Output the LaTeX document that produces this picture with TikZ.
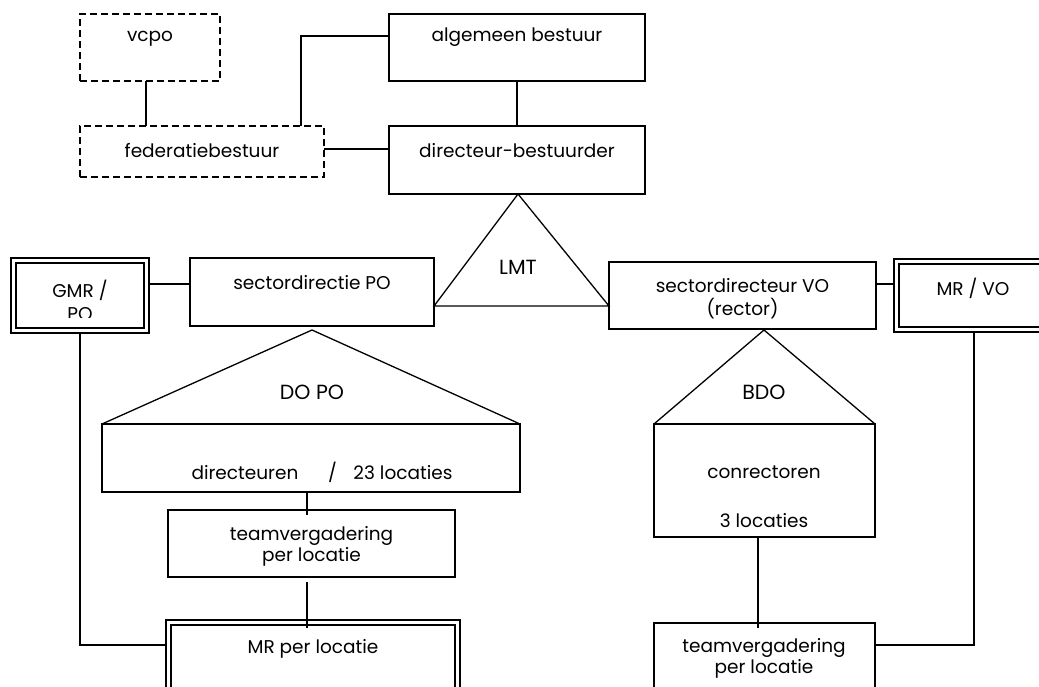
\documentclass[tikz,border=0pt]{standalone}
\usepackage{fontspec}
\setmainfont{Poppins}
\begin{document}
\begin{tikzpicture}[x=1pt,y=-1pt,
  line width=1.3pt,
  every node/.style={inner sep=0pt, outer sep=0pt},
  txt/.style={font=\fontsize{18.5}{21}\selectfont, anchor=center},
  big/.style={font=\fontsize{20.5}{23}\selectfont, anchor=center},
  bx/.style={draw, rectangle},
  dsh/.style={dash pattern=on 7pt off 4pt},
  dbx/.style={draw, rectangle, line width=1.8pt},
  dbin/.style={draw, rectangle, line width=1.8pt}
]
\useasboundingbox (0,0) rectangle (1039,686);
\clip (0,0) rectangle (1039,686);

% ---- top: governing bodies
\node[bx, dsh, minimum width=140, minimum height=67] (vcpo) at (150,47.5) {};
\node[bx, dsh, minimum width=244, minimum height=51] (fed) at (202,151.5) {};
\node[bx, minimum width=256, minimum height=67] (alg) at (517,47.5) {};
\node[bx, minimum width=256, minimum height=68] (dir) at (517,160) {};

\node[txt] (tvcpo) at (150,39) {vcpo};
\node[txt] (tfed) at (202,151) {federatiebestuur};
\node[txt] (talg) at (517,37) {algemeen bestuur};
\node[txt] (tdir) at (517,151) {directeur-bestuurder};

\coordinate (kfed) at (301,36);
\draw ([xshift=-4pt]vcpo.south) -- ([xshift=-4pt]vcpo.south |- fed.north);
\draw (alg.west |- kfed) -| (kfed |- fed.north);
\draw ([yshift=2.5pt]fed.east) -- ([yshift=2.5pt]fed.east -| dir.west);
\draw (alg.south) -- (alg.south |- dir.north);

% ---- sector level
\node[bx, minimum width=244, minimum height=68] (spo) at (312,292) {};
\node[bx, minimum width=267, minimum height=67] (svo) at (742.5,295.5) {};
\node[txt] (tspo) at (312,283) {sectordirectie PO};
\node[txt, align=center] (tsvo) at (742.5,298.5) {sectordirecteur VO\\[2pt](rector)};

% LMT triangle between the sector boxes
\coordinate (lmtA) at (518,194);
\coordinate (lmtL) at (434,306);
\coordinate (lmtR) at (609,306);
\draw (lmtL) -- (lmtA) -- (lmtR) -- cycle;
\node[big] (tlmt) at (518,267) {LMT};

% GMR / PO (double frame, text cut off by the inner frame)
\node[dbx, minimum width=138, minimum height=75] (gmr) at (80,295.5) {};
\node[dbin, minimum width=128, minimum height=65] (gmrin) at (80,295.5) {};
\begin{scope}
  \clip (17,264) rectangle (143,317.5);
  \node[txt, align=center] (tgmr) at (80,300) {GMR /\\[2pt]PO};
\end{scope}

% MR / VO (double frame)
\node[dbx, minimum width=160, minimum height=73] (mrvo) at (974,295.5) {};
\node[dbin, minimum width=150, minimum height=63] (mrvoin) at (974,295.5) {};
\node[txt] (tmrvo) at (973,288) {MR / VO};

\coordinate (kgmr) at (0,284);
\draw (gmr.east |- kgmr) -- (spo.west |- kgmr);
\draw (svo.east |- kgmr) -- (mrvo.west |- kgmr);

% ---- PO branch
\coordinate (dopoA) at (312,330);
\coordinate (dopoL) at (102,424);
\coordinate (dopoR) at (520,424);
\draw (dopoL) -- (dopoA) -- (dopoR);
\node[big] (tdopo) at (312,392) {DO PO};
\node[bx, minimum width=418, minimum height=68] (dirpo) at (311,458) {};
\node[txt] (tdirpo) at (322,472) {directeuren\hspace{1.6em}/\hspace{0.9em}23 locaties};

\node[bx, minimum width=287, minimum height=67] (tpo) at (311.5,543.5) {};
\node[txt, align=center] (ttpo) at (311.5,546.5) {teamvergadering\\[0pt]per locatie};

\node[dbx, minimum width=294, minimum height=90] (mrpo) at (313,665) {};
\node[dbin, minimum width=284, minimum height=80] (mrpoin) at (313,665) {};
\node[txt] (tmrpo) at (313,649) {MR per locatie};

\draw ([xshift=-4pt]dirpo.south) -- ([xshift=-4pt,yshift=-5pt]dirpo.south |- tpo.north);
\draw ([xshift=-4.5pt,yshift=-5pt]tpo.south) -- ([xshift=-6pt,yshift=-3pt]mrpoin.north);
\draw (gmr.south) |- ([yshift=20pt]mrpo.west);

% ---- VO branch
\coordinate (bdoA) at (764,330);
\coordinate (bdoL) at (654,424);
\coordinate (bdoR) at (875,424);
\draw (bdoL) -- (bdoA) -- (bdoR);
\node[big] (tbdo) at (764,392) {BDO};
\node[bx, minimum width=221, minimum height=113] (con) at (764.5,480.5) {};
\node[txt] (tcon1) at (764,472) {conrectoren};
\node[txt] (tcon2) at (764,521) {3 locaties};

\node[bx, minimum width=221, minimum height=90] (tvo) at (764.5,668) {};
\node[txt, align=center] (ttvo) at (764,658) {teamvergadering\\[0pt]per locatie};

\draw ([xshift=-6.5pt]con.south) -- ([xshift=-6.5pt,yshift=-5pt]con.south |- tvo.north);
\draw (mrvo.south) |- ([yshift=23pt]tvo.east);
\end{tikzpicture}
\end{document}
